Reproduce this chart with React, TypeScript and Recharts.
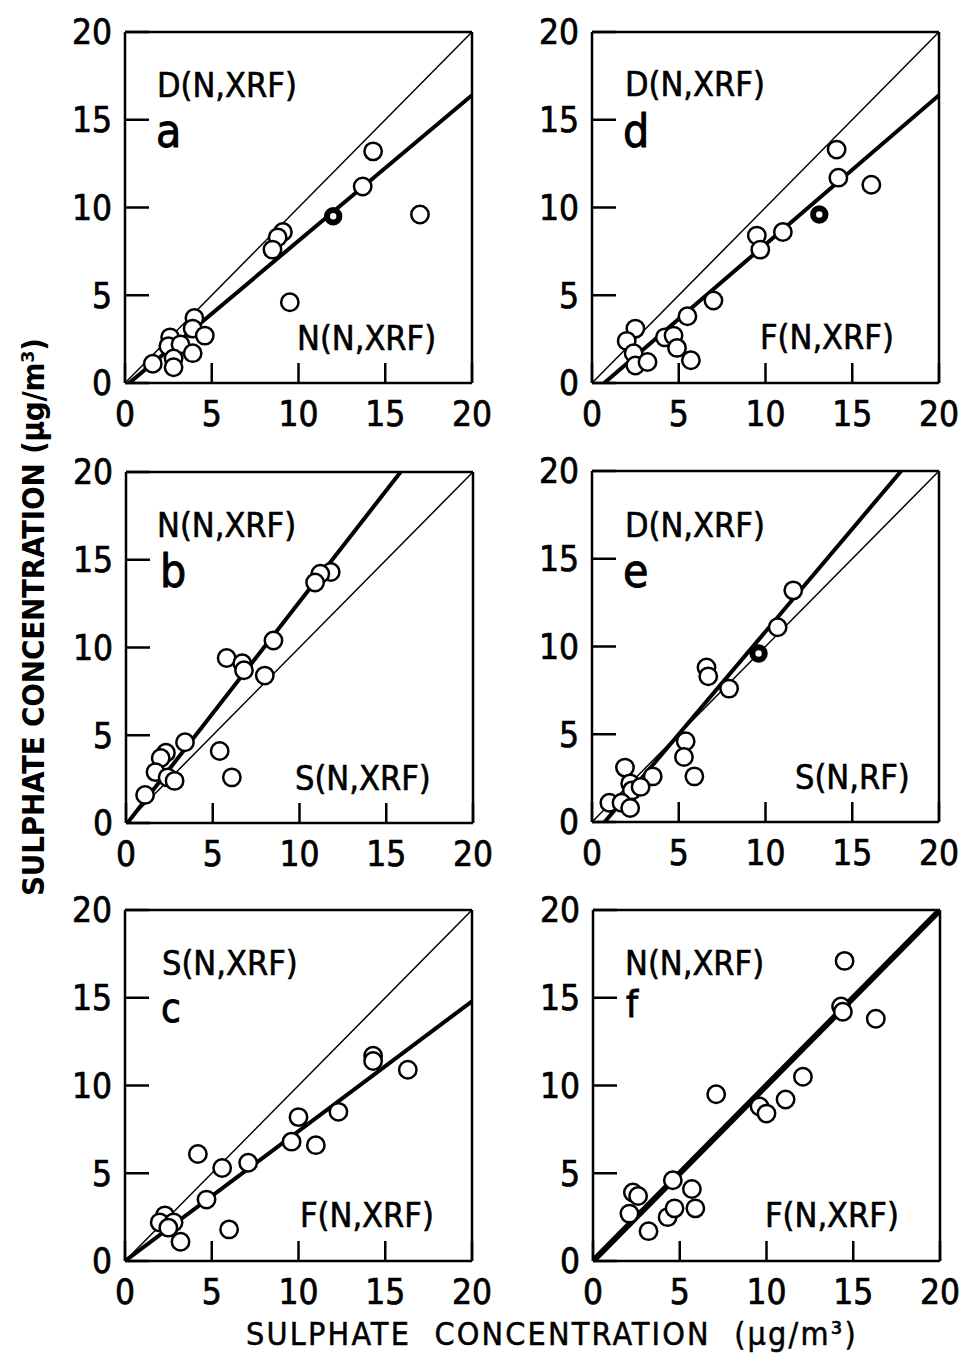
import { ScatterChart, Scatter, XAxis, YAxis } from "recharts";

const ticks = [0, 5, 10, 15, 20];

// a: D(N,XRF) against N(N,XRF)
const aX = [14.3, 13.7, 17.0, 9.1, 8.8, 8.5, 9.5, 4.0, 3.9, 4.6, 2.6, 2.5, 3.2, 3.9, 1.6, 2.8, 2.8];
const aY = [13.2, 11.2, 9.6, 8.6, 8.3, 7.6, 4.6, 3.7, 3.1, 2.7, 2.6, 2.1, 2.2, 1.7, 1.1, 1.4, 0.9];
const aBoldX = [12.0];
const aBoldY = [9.5];
const aFit = [0.83, -0.2]; // slope, intercept

// d: D(N,XRF) against F(N,XRF)
const dX = [14.1, 14.2, 16.1, 11.0, 9.5, 9.7, 7.0, 5.5, 2.5, 2.0, 4.2, 4.7, 4.9, 2.4, 2.5, 3.2, 5.7];
const dY = [13.3, 11.7, 11.3, 8.6, 8.4, 7.6, 4.7, 3.8, 3.1, 2.4, 2.6, 2.7, 2.0, 1.7, 1.0, 1.2, 1.3];
const dBoldX = [13.1];
const dBoldY = [9.6];
const dFit = [0.85, -0.6];

// b: N(N,XRF) against S(N,XRF)
const bX = [11.8, 11.2, 10.9, 8.5, 5.8, 6.7, 6.8, 8.0, 3.4, 5.4, 2.3, 2.0, 6.1, 1.7, 2.4, 2.8, 1.1];
const bY = [14.3, 14.2, 13.7, 10.4, 9.4, 9.1, 8.7, 8.4, 4.6, 4.1, 4.0, 3.7, 2.6, 2.9, 2.6, 2.4, 1.6];
const bFit = [1.27, -0.1];

// e: D(N,XRF) against S(N,RF)
const eX = [11.6, 10.7, 6.6, 6.7, 7.9, 5.4, 5.3, 5.9, 3.5, 1.9, 2.2, 2.3, 2.8, 1.0, 1.7, 2.2];
const eY = [13.2, 11.1, 8.8, 8.3, 7.6, 4.6, 3.7, 2.6, 2.6, 3.1, 2.2, 1.8, 2.0, 1.1, 1.1, 0.8];
const eBoldX = [9.6];
const eBoldY = [9.6];
const eFit = [1.17, -0.85];

// c: S(N,XRF) against F(N,XRF)
const cX = [14.3, 14.3, 16.3, 12.3, 10.0, 9.6, 11.0, 4.2, 5.6, 7.1, 4.7, 2.3, 2.0, 2.8, 2.5, 3.2, 6.0];
const cY = [11.7, 11.4, 10.9, 8.5, 8.2, 6.8, 6.6, 6.1, 5.3, 5.6, 3.5, 2.6, 2.2, 2.2, 1.9, 1.1, 1.8];
const cFit = [0.74, 0.0];

// f: N(N,XRF) against F(N,XRF)
const fX = [14.5, 14.3, 14.4, 16.3, 12.1, 7.1, 11.1, 9.6, 10.0, 4.6, 5.7, 2.3, 2.6, 2.1, 3.2, 4.3, 4.7, 5.9];
const fY = [17.1, 14.5, 14.2, 13.8, 10.5, 9.5, 9.2, 8.8, 8.4, 4.6, 4.1, 3.9, 3.7, 2.7, 1.7, 2.5, 3.0, 3.0];
const fFit = [1.0, 0.0];

const font = "'DejaVu Sans Condensed', 'DejaVu Sans', sans-serif";

const zip = (xs: number[], ys: number[]) => xs.map((x, i) => ({ x, y: ys[i] }));

function fitLine(fit: number[]) {
  const [m, c] = fit;
  const x0 = c < 0 ? -c / m : 0;
  const x1 = Math.min(20, (20 - c) / m);
  return [
    { x: x0, y: m * x0 + c },
    { x: x1, y: m * x1 + c },
  ];
}

const diagonal = [
  { x: 0, y: 0 },
  { x: 20, y: 20 },
];

const openDot = (props: any) => (
  <circle cx={props.cx} cy={props.cy} r={8.7} fill="#fff" stroke="#000" strokeWidth={2.5} />
);
const boldDot = (props: any) => (
  <circle cx={props.cx} cy={props.cy} r={6.2} fill="#fff" stroke="#000" strokeWidth={6} />
);
const noDot = () => <g />;

const panels = [
  { id: "a", xs: aX, ys: aY, bx: aBoldX, by: aBoldY, fit: aFit, fitW: 4, left: 125, top: 32 },
  { id: "d", xs: dX, ys: dY, bx: dBoldX, by: dBoldY, fit: dFit, fitW: 4, left: 592, top: 32 },
  { id: "b", xs: bX, ys: bY, bx: [], by: [], fit: bFit, fitW: 4, left: 126, top: 472 },
  { id: "e", xs: eX, ys: eY, bx: eBoldX, by: eBoldY, fit: eFit, fitW: 4, left: 592, top: 471 },
  { id: "c", xs: cX, ys: cY, bx: [], by: [], fit: cFit, fitW: 4, left: 125, top: 910 },
  { id: "f", xs: fX, ys: fY, bx: [], by: [], fit: fFit, fitW: 6, left: 593, top: 910 },
];

const axisLine = { stroke: "#000", strokeWidth: 2.5 };
const tickStyle = { fontSize: 35, fontFamily: font, fill: "#000", stroke: "#000", strokeWidth: 0.7 };

function Panel({ p }: { p: (typeof panels)[number] }) {
  return (
    <div style={{ position: "absolute", left: p.left - 60, top: p.top - 28 }}>
      <ScatterChart width={439} height={439} margin={{ top: 26, right: 30, bottom: 0, left: 0 }}>
        <XAxis
          type="number"
          dataKey="x"
          domain={[0, 20]}
          ticks={ticks}
          allowDataOverflow
          height={60}
          axisLine={axisLine}
          tickLine={axisLine}
          tickSize={-20}
          tickMargin={38}
          tick={tickStyle}
          interval={0}
        />
        <XAxis
          xAxisId="top"
          orientation="top"
          type="number"
          dataKey="x"
          domain={[0, 20]}
          ticks={ticks}
          allowDataOverflow
          height={2}
          axisLine={axisLine}
          tickLine={axisLine}
          tickSize={-18}
          tick={false}
        />
        <YAxis
          type="number"
          dataKey="y"
          domain={[0, 20]}
          ticks={ticks}
          allowDataOverflow
          width={60}
          axisLine={axisLine}
          tickLine={axisLine}
          tickSize={-24}
          tickMargin={37}
          tick={tickStyle}
          interval={0}
        />
        <YAxis
          yAxisId="right"
          orientation="right"
          type="number"
          dataKey="y"
          domain={[0, 20]}
          ticks={ticks}
          allowDataOverflow
          width={2}
          axisLine={axisLine}
          tickLine={axisLine}
          tickSize={-18}
          tick={false}
        />
        <Scatter
          data={diagonal}
          line={{ stroke: "#000", strokeWidth: 1.5 }}
          shape={noDot}
          isAnimationActive={false}
          legendType="none"
        />
        <Scatter
          data={fitLine(p.fit)}
          line={{ stroke: "#000", strokeWidth: p.fitW }}
          shape={noDot}
          isAnimationActive={false}
          legendType="none"
        />
        <Scatter data={zip(p.xs, p.ys)} shape={openDot} isAnimationActive={false} />
        {p.bx.length > 0 && (
          <Scatter data={zip(p.bx, p.by)} shape={boldDot} isAnimationActive={false} />
        )}
      </ScatterChart>
    </div>
  );
}

// panel annotations: text, x, baseline y, size
const notes: [string, number, number, number][] = [
  ["D(N,XRF)", 157, 97, 34],
  ["a", 156, 147, 46],
  ["N(N,XRF)", 297, 350, 34],
  ["D(N,XRF)", 625, 96, 34],
  ["d", 623, 147, 46],
  ["F(N,XRF)", 760, 349, 34],
  ["N(N,XRF)", 157, 537, 34],
  ["b", 160, 587, 46],
  ["S(N,XRF)", 295, 790, 34],
  ["D(N,XRF)", 625, 537, 34],
  ["e", 623, 587, 46],
  ["S(N,RF)", 795, 789, 34],
  ["S(N,XRF)", 162, 975, 34],
  ["c", 161, 1022, 40],
  ["F(N,XRF)", 300, 1227, 34],
  ["N(N,XRF)", 625, 975, 34],
  ["f", 626, 1017, 38],
  ["F(N,XRF)", 765, 1227, 34],
];

export default function App() {
  return (
    <div style={{ position: "relative", width: 970, height: 1356, overflow: "hidden", background: "#fff" }}>
      <style>{"body{margin:0}"}</style>
      {panels.map((p) => (
        <Panel key={p.id} p={p} />
      ))}
      <svg
        width={970}
        height={1356}
        style={{ position: "absolute", left: 0, top: 0, pointerEvents: "none" }}
      >
        {notes.map(([t, x, y, s], i) => (
          <text
            key={i}
            x={x}
            y={y}
            fontSize={s}
            fontFamily={font}
            fill="#000"
            stroke="#000"
            strokeWidth={s > 36 ? 0.9 : 0.6}
          >
            {t}
          </text>
        ))}
        <text
          x={552}
          y={1345}
          fontSize={32}
          fontFamily={font}
          textAnchor="middle"
          letterSpacing={2.2}
          wordSpacing={12}
          fill="#000"
          stroke="#000"
          strokeWidth={0.5}
        >
          SULPHATE CONCENTRATION (μg/m³)
        </text>
        <text
          transform="translate(44,617) rotate(-90)"
          fontSize={31}
          fontFamily={font}
          fontWeight="bold"
          textAnchor="middle"
          textLength={558}
          lengthAdjust="spacing"
          fill="#000"
        >
          SULPHATE CONCENTRATION (μg/m³)
        </text>
      </svg>
    </div>
  );
}
